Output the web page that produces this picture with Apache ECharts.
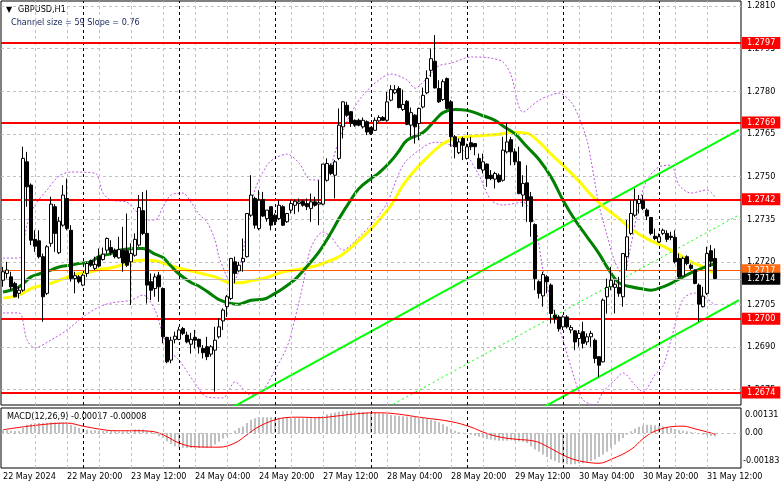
<!DOCTYPE html>
<html>
<head>
<meta charset="utf-8">
<script src="https://cdn.jsdelivr.net/npm/echarts@6/dist/echarts.min.js"></script>
<style>
html,body{margin:0;padding:0;background:#fff;}
#chart{width:781px;height:489px;}
</style>
</head>
<body>
<div id="chart"></div>
<script>
// ---------------- DATA ----------------
const days = ['22 May','23 May','24 May','27 May','28 May','29 May','30 May','31 May'];
const categories = [];
days.forEach((d, i) => {
  const h0 = i === 0 ? 4 : 0;
  const h1 = i === days.length - 1 ? 20 : 23;
  for (let h = h0; h <= h1; h++) categories.push(d + ' ' + String(h).padStart(2, '0') + ':00');
});
const tickLabels = ['22 May 2024','22 May 20:00','23 May 12:00','24 May 04:00','24 May 20:00','27 May 12:00','28 May 04:00','28 May 20:00','29 May 12:00','30 May 04:00','30 May 20:00','31 May 12:00'];
const priceTicks = [1.2675,1.2690,1.2705,1.2720,1.2735,1.2750,1.2765,1.2780,1.2795,1.2810];
const levels = [1.2797,1.2769,1.2742,1.2700,1.2674];
const askLevel = 1.2717;
const bidLevel = 1.2714;

const opens = [1.27135,1.27159,1.27147,1.27124,1.27089,1.27100,1.27552,1.27470,1.27279,1.27274,
1.27218,1.27089,1.27265,1.27394,1.27232,1.27329,1.27423,1.27311,1.27141,1.27147,
1.27118,1.27159,1.27204,1.27177,1.27220,1.27208,1.27241,1.27250,1.27241,1.27214,
1.27241,1.27239,1.27200,1.27223,1.27259,1.27380,1.27300,1.27130,1.27106,1.27153,
1.27106,1.26934,1.26854,1.26927,1.26927,1.26965,1.26942,1.26910,1.26934,1.26927,
1.26895,1.26901,1.26875,1.26889,1.26936,1.26992,1.27042,1.27071,1.27200,1.27168,
1.27200,1.27218,1.27364,1.27423,1.27317,1.27419,1.27352,1.27394,1.27364,1.27352,
1.27394,1.27341,1.27382,1.27399,1.27405,1.27413,1.27405,1.27388,1.27411,1.27403,
1.27403,1.27487,1.27540,1.27505,1.27564,1.27675,1.27751,1.27728,1.27698,1.27698,
1.27675,1.27693,1.27673,1.27663,1.27696,1.27708,1.27698,1.27769,1.27795,1.27810,
1.27736,1.27765,1.27681,1.27716,1.27687,1.27745,1.27795,1.27874,1.27906,1.27810,
1.27771,1.27845,1.27763,1.27640,1.27584,1.27634,1.27564,1.27619,1.27616,1.27564,
1.27523,1.27544,1.27505,1.27491,1.27505,1.27487,1.27587,1.27630,1.27587,1.27552,
1.27435,1.27478,1.27429,1.27331,1.27130,1.27080,1.27147,1.27118,1.27012,1.27006,
1.26971,1.27006,1.26960,1.26957,1.26930,1.26954,1.26918,1.26936,1.26924,1.26866,
1.26848,1.27077,1.27112,1.27110,1.27110,1.27077,1.27218,1.27300,1.27364,1.27405,
1.27415,1.27382,1.27356,1.27290,1.27270,1.27300,1.27300,1.27290,1.27286,1.27212,
1.27150,1.27218,1.27188,1.27171,1.27118,1.27042,1.27089,1.27239,1.27212];
const highs = [1.27182,1.27200,1.27165,1.27130,1.27112,1.27605,1.27587,1.27476,1.27311,1.27311,
1.27229,1.27259,1.27429,1.27403,1.27358,1.27470,1.27493,1.27329,1.27165,1.27153,
1.27159,1.27200,1.27208,1.27218,1.27247,1.27250,1.27286,1.27276,1.27247,1.27288,
1.27323,1.27370,1.27265,1.27300,1.27435,1.27446,1.27452,1.27159,1.27159,1.27165,
1.27110,1.26936,1.26936,1.26954,1.26971,1.26971,1.26954,1.26950,1.26960,1.26930,
1.26907,1.26936,1.26907,1.26971,1.27001,1.27036,1.27083,1.27212,1.27218,1.27200,
1.27282,1.27370,1.27505,1.27429,1.27452,1.27446,1.27382,1.27394,1.27370,1.27419,
1.27399,1.27372,1.27417,1.27419,1.27423,1.27419,1.27423,1.27440,1.27429,1.27487,
1.27544,1.27564,1.27546,1.27558,1.27740,1.27765,1.27763,1.27731,1.27701,1.27704,
1.27708,1.27698,1.27675,1.27708,1.27716,1.27713,1.27798,1.27822,1.27822,1.27818,
1.27806,1.27769,1.27743,1.27720,1.27743,1.27813,1.27874,1.27951,1.27998,1.27839,
1.27842,1.27849,1.27769,1.27646,1.27634,1.27640,1.27616,1.27640,1.27618,1.27581,
1.27581,1.27546,1.27523,1.27517,1.27511,1.27640,1.27689,1.27640,1.27599,1.27605,
1.27505,1.27540,1.27446,1.27335,1.27135,1.27165,1.27153,1.27124,1.27030,1.27012,
1.27012,1.27012,1.26977,1.26960,1.26960,1.26989,1.26948,1.26957,1.26930,1.26868,
1.27071,1.27141,1.27182,1.27135,1.27147,1.27229,1.27347,1.27417,1.27458,1.27435,
1.27435,1.27388,1.27358,1.27317,1.27300,1.27317,1.27311,1.27306,1.27311,1.27229,
1.27218,1.27223,1.27194,1.27173,1.27124,1.27112,1.27253,1.27259,1.27247];
const lows = [1.27112,1.27141,1.27100,1.27075,1.27071,1.27094,1.27394,1.27259,1.27235,1.27212,
1.26989,1.27083,1.27253,1.27235,1.27227,1.27323,1.27311,1.27130,1.27089,1.27124,
1.27114,1.27147,1.27182,1.27171,1.27180,1.27204,1.27229,1.27223,1.27212,1.27211,
1.27165,1.27182,1.27048,1.27218,1.27253,1.27294,1.27053,1.27065,1.27077,1.27059,
1.26913,1.26843,1.26843,1.26913,1.26924,1.26942,1.26913,1.26877,1.26895,1.26877,
1.26860,1.26854,1.26866,1.26743,1.26930,1.26960,1.27006,1.27065,1.27124,1.27165,
1.27165,1.27215,1.27358,1.27317,1.27311,1.27358,1.27341,1.27311,1.27329,1.27347,
1.27326,1.27337,1.27370,1.27368,1.27376,1.27394,1.27382,1.27341,1.27394,1.27329,
1.27399,1.27482,1.27505,1.27423,1.27558,1.27634,1.27710,1.27675,1.27675,1.27677,
1.27669,1.27646,1.27646,1.27661,1.27693,1.27696,1.27693,1.27765,1.27790,1.27740,
1.27731,1.27681,1.27640,1.27616,1.27628,1.27740,1.27790,1.27851,1.27810,1.27759,
1.27766,1.27736,1.27605,1.27564,1.27579,1.27558,1.27560,1.27593,1.27575,1.27526,
1.27511,1.27464,1.27487,1.27458,1.27478,1.27482,1.27581,1.27540,1.27540,1.27438,
1.27394,1.27341,1.27288,1.27100,1.27071,1.27042,1.27089,1.26983,1.26983,1.26954,
1.26960,1.26965,1.26948,1.26889,1.26901,1.26895,1.26907,1.26901,1.26843,1.26795,
1.26846,1.27018,1.27100,1.27018,1.27077,1.27042,1.27171,1.27294,1.27358,1.27370,
1.27382,1.27347,1.27294,1.27276,1.27267,1.27294,1.27270,1.27276,1.27194,1.27141,
1.27147,1.27188,1.27171,1.27121,1.26989,1.27039,1.27083,1.27182,1.27141];
const closes = [1.27165,1.27171,1.27112,1.27077,1.27100,1.27564,1.27464,1.27276,1.27255,1.27218,
1.27077,1.27253,1.27403,1.27300,1.27343,1.27435,1.27317,1.27141,1.27151,1.27130,
1.27153,1.27194,1.27188,1.27191,1.27185,1.27227,1.27282,1.27233,1.27218,1.27243,
1.27196,1.27188,1.27229,1.27279,1.27391,1.27300,1.27118,1.27100,1.27147,1.27112,
1.26936,1.26848,1.26924,1.26938,1.26960,1.26948,1.26918,1.26927,1.26924,1.26901,
1.26880,1.26866,1.26901,1.26924,1.26971,1.27030,1.27077,1.27212,1.27159,1.27188,
1.27212,1.27370,1.27435,1.27329,1.27417,1.27361,1.27382,1.27329,1.27341,1.27399,
1.27329,1.27370,1.27405,1.27413,1.27411,1.27399,1.27394,1.27411,1.27399,1.27408,
1.27544,1.27546,1.27511,1.27552,1.27681,1.27763,1.27716,1.27687,1.27681,1.27681,
1.27698,1.27657,1.27652,1.27698,1.27708,1.27698,1.27763,1.27806,1.27806,1.27743,
1.27754,1.27684,1.27725,1.27675,1.27740,1.27786,1.27845,1.27915,1.27812,1.27763,
1.27834,1.27740,1.27640,1.27605,1.27622,1.27610,1.27605,1.27605,1.27605,1.27528,
1.27552,1.27493,1.27493,1.27511,1.27482,1.27593,1.27622,1.27587,1.27552,1.27440,
1.27476,1.27417,1.27341,1.27141,1.27089,1.27155,1.27130,1.27018,1.27001,1.26965,
1.27006,1.26971,1.26969,1.26918,1.26948,1.26913,1.26936,1.26948,1.26860,1.26836,
1.27065,1.27110,1.27135,1.27121,1.27089,1.27229,1.27288,1.27370,1.27417,1.27419,
1.27388,1.27361,1.27300,1.27282,1.27288,1.27311,1.27279,1.27286,1.27200,1.27147,
1.27212,1.27194,1.27177,1.27124,1.27051,1.27079,1.27229,1.27202,1.27141];

const maGreen = [[0,1.27094],[4,1.27112],[7,1.27147],[9,1.27157],[12,1.27171],[14,1.27182],[17,1.27188],[19,1.27194],[22,1.27200],[24,1.27218],[27,1.27229],[29,1.27241],[33,1.27247],[35,1.27247],[38,1.27227],[40,1.27215],[42,1.27185],[44,1.27157],[47,1.27127],[49,1.27114],[52,1.27086],[54,1.27067],[57,1.27053],[59,1.27051],[62,1.27065],[65,1.27068],[68,1.27089],[70,1.27106],[73,1.27138],[75,1.27168],[79,1.27235],[82,1.27302],[84,1.27352],[87,1.27419],[89,1.27458],[92,1.27493],[94,1.27513],[97,1.27555],[99,1.27590],[101,1.27628],[105,1.27655],[108,1.27698],[110,1.27725],[113,1.27736],[116,1.27733],[120,1.27714],[123,1.27698],[125,1.27678],[128,1.27650],[131,1.27605],[134,1.27560],[137,1.27499],[140,1.27417],[143,1.27347],[146,1.27288],[149,1.27229],[151,1.27182],[154,1.27126],[157,1.27112],[160,1.27104],[162,1.27100],[165,1.27112],[167,1.27124],[170,1.27147],[172,1.27161],[175,1.27179],[178,1.27194]];
const maYellow = [[0,1.27073],[4,1.27083],[7,1.27106],[9,1.27114],[12,1.27124],[14,1.27135],[17,1.27150],[19,1.27159],[22,1.27165],[24,1.27173],[27,1.27179],[29,1.27186],[32,1.27200],[35,1.27206],[38,1.27204],[40,1.27196],[43,1.27182],[46,1.27171],[49,1.27161],[53,1.27147],[55,1.27135],[57,1.27126],[59,1.27126],[62,1.27133],[66,1.27145],[70,1.27165],[73,1.27171],[78,1.27185],[81,1.27200],[84,1.27218],[87,1.27250],[89,1.27276],[92,1.27316],[94,1.27347],[97,1.27399],[100,1.27470],[103,1.27523],[106,1.27567],[110,1.27616],[113,1.27634],[116,1.27640],[120,1.27645],[124,1.27649],[127,1.27656],[131,1.27652],[134,1.27622],[137,1.27579],[140,1.27540],[144,1.27484],[147,1.27435],[150,1.27396],[154,1.27352],[157,1.27317],[159,1.27297],[162,1.27274],[165,1.27255],[168,1.27233],[172,1.27200],[175,1.27182],[178,1.27159]];
const bbUpper = [[0,1.27213],[4,1.27213],[6,1.27329],[8,1.27400],[11,1.27453],[14,1.27502],[17,1.27516],[23,1.27512],[25,1.27442],[27,1.27417],[31,1.27410],[33,1.27382],[36,1.27347],[38,1.27347],[40,1.27393],[42,1.27435],[45,1.27442],[47,1.27410],[49,1.27368],[51,1.27340],[53,1.27277],[54,1.27217],[56,1.27146],[57,1.27118],[59,1.27171],[61,1.27312],[63,1.27453],[66,1.27540],[68,1.27565],[71,1.27579],[74,1.27548],[77,1.27488],[80,1.27488],[82,1.27540],[84,1.27628],[87,1.27723],[90,1.27787],[94,1.27840],[97,1.27861],[101,1.27840],[103,1.27811],[106,1.27847],[109,1.27890],[112,1.27899],[117,1.27921],[122,1.27917],[125,1.27903],[127,1.27857],[130,1.27727],[134,1.27769],[137,1.27787],[139,1.27794],[142,1.27762],[144,1.27709],[146,1.27628],[147,1.27558],[149,1.27400],[151,1.27294],[153,1.27199],[155,1.27153],[157,1.27259],[159,1.27400],[161,1.27488],[164,1.27534],[167,1.27540],[169,1.27470],[172,1.27442],[176,1.27453],[178,1.27428]];
const bbLower = [[0,1.27020],[4,1.27020],[6,1.26925],[8,1.26897],[12,1.26925],[16,1.26960],[20,1.27006],[24,1.27041],[27,1.27055],[32,1.27065],[35,1.27083],[38,1.27030],[40,1.26942],[42,1.26882],[44,1.26854],[48,1.26773],[51,1.26724],[55,1.26721],[58,1.26777],[62,1.26731],[65,1.26749],[68,1.26819],[71,1.26900],[73,1.27000],[75,1.27120],[77,1.27250],[80,1.27305],[82,1.27287],[85,1.27241],[87,1.27259],[93,1.27347],[96,1.27407],[100,1.27540],[104,1.27593],[108,1.27621],[112,1.27611],[115,1.27593],[119,1.27505],[122,1.27417],[125,1.27400],[130,1.27410],[133,1.27329],[135,1.27171],[137,1.27065],[140,1.26925],[143,1.26784],[145,1.26714],[148,1.26696],[150,1.26742],[153,1.26784],[155,1.26809],[158,1.26766],[160,1.26742],[163,1.26802],[165,1.26833],[167,1.26925],[170,1.27069],[173,1.27090],[178,1.27048]];
const channelUpper = [[57,1.26685],[184,1.27664]];
const channelMiddle = [[57,1.26386],[184,1.27365]];
const channelLower = [[57,1.26086],[184,1.27065]];

const macdHist = [0.00015,0.00014,0.00012,0.00010,0.00010,0.00026,0.00043,0.00048,0.00050,0.00052,
0.00053,0.00054,0.00055,0.00055,0.00055,0.00055,0.00054,0.00043,0.00034,0.00026,
0.00021,0.00017,0.00015,0.00014,0.00012,0.00012,0.00010,0.00010,0.00009,0.00008,
0.00008,0.00009,0.00012,0.00018,0.00020,0.00018,0.00010,0.00005,-0.00005,-0.00017,
-0.00026,-0.00043,-0.00057,-0.00069,-0.00074,-0.00077,-0.00078,-0.00078,-0.00078,-0.00078,
-0.00077,-0.00076,-0.00074,-0.00060,-0.00045,-0.00028,-0.00015,0.00000,0.00012,0.00026,
0.00034,0.00052,0.00069,0.00077,0.00084,0.00083,0.00082,0.00082,0.00081,0.00080,
0.00080,0.00080,0.00079,0.00079,0.00078,0.00078,0.00078,0.00078,0.00080,0.00086,
0.00091,0.00098,0.00103,0.00108,0.00112,0.00115,0.00115,0.00114,0.00112,0.00111,
0.00110,0.00108,0.00106,0.00105,0.00104,0.00102,0.00100,0.00095,0.00092,0.00090,
0.00088,0.00086,0.00085,0.00084,0.00081,0.00077,0.00074,0.00069,0.00064,0.00057,
0.00046,0.00034,0.00021,0.00012,0.00005,0.00002,-0.00003,-0.00009,-0.00014,-0.00019,
-0.00026,-0.00031,-0.00034,-0.00038,-0.00040,-0.00040,-0.00040,-0.00038,-0.00040,-0.00043,
-0.00046,-0.00052,-0.00069,-0.00086,-0.00098,-0.00112,-0.00126,-0.00138,-0.00146,-0.00155,
-0.00160,-0.00163,-0.00163,-0.00163,-0.00160,-0.00158,-0.00155,-0.00146,-0.00138,-0.00126,
-0.00112,-0.00098,-0.00077,-0.00060,-0.00043,-0.00026,-0.00009,0.00009,0.00022,0.00033,
0.00040,0.00043,0.00043,0.00041,0.00038,0.00034,0.00031,0.00026,0.00021,0.00015,
0.00012,0.00009,0.00005,0.00003,-0.00002,-0.00009,-0.00012,-0.00015,-0.00017];
const macdSignal = [[0,0.00017],[8,0.00040],[16,0.00052],[20,0.00036],[24,0.00021],[28,0.00012],[33,0.00012],[37,0.00009],[40,-0.00009],[44,-0.00052],[48,-0.00072],[54,-0.00074],[58,-0.00052],[61,-0.00009],[64,0.00034],[68,0.00069],[71,0.00081],[74,0.00083],[79,0.00080],[83,0.00088],[88,0.00100],[93,0.00106],[97,0.00103],[105,0.00080],[112,0.00060],[117,0.00031],[120,0.00005],[124,-0.00020],[128,-0.00032],[133,-0.00043],[136,-0.00070],[140,-0.00115],[143,-0.00140],[147,-0.00156],[149,-0.00158],[152,-0.00138],[157,-0.00086],[160,-0.00030],[163,0.00010],[168,0.00035],[170,0.00036],[173,0.00022],[177,0.00000],[178,-0.00008]];

// ---------------- FONT PICK (narrow UI font like the terminal's) ----------------
function fontAvailable(name) {
  const ctx = document.createElement('canvas').getContext('2d');
  const probe = '22 May 2024 WMil 1.2810';
  ctx.font = '40px monospace';
  const w1 = ctx.measureText(probe).width;
  ctx.font = "40px '" + name + "', monospace";
  const w2 = ctx.measureText(probe).width;
  ctx.font = '40px serif';
  const w3 = ctx.measureText(probe).width;
  ctx.font = "40px '" + name + "', serif";
  const w4 = ctx.measureText(probe).width;
  return w1 !== w2 || w3 !== w4;
}
const candidates = ['Liberation Sans Narrow', 'DejaVu Sans Condensed', 'Arial Narrow', 'Liberation Sans'];
let FAM = 'sans-serif';
for (const c of candidates) { if (fontAvailable(c)) { FAM = c; break; } }
const FONT = "'" + FAM + "', sans-serif";
// size chosen so that "22 May 2024" spans ~54px as in the terminal screenshot
const FS = (function () {
  const ctx = document.createElement('canvas').getContext('2d');
  ctx.font = '11px ' + FONT;
  const w = ctx.measureText('22 May 2024').width;
  return Math.max(8.5, Math.min(11, Math.round(11 * 54 / w * 2) / 2));
})();

// ---------------- CHART ----------------
const chart = echarts.init(document.getElementById('chart'), null, {renderer: 'canvas'});

const candleData = opens.map((o, i) => [o, closes[i], lows[i], highs[i]]);
const gridDash = {color: '#C0C0C0', type: [3, 3], width: 1};
const sepDash = {color: '#000000', type: [3, 3], width: 1};
const vGrid = [];
categories.forEach((c, i) => {
  if (i > 0 && i % 8 === 0 && i < 184 && !c.endsWith(' 00:00')) vGrid.push({xAxis: i, lineStyle: gridDash});
  if (c.endsWith(' 00:00')) vGrid.push({xAxis: i, lineStyle: sepDash});
});
const hGrid = priceTicks.map(v => ({yAxis: v, name: v.toFixed(4)}));

const axisLabelStyle = {color: '#000', fontSize: FS, fontFamily: FONT};
const levelLabel = (bg) => ({show: true, position: 'end', formatter: '{b}', color: '#fff', backgroundColor: bg,
  fontSize: FS, fontFamily: FONT, padding: [1, 5, 0, 5], distance: 1, lineHeight: 11});

const levelData = levels.map(v => ({yAxis: v, name: v.toFixed(4), lineStyle: {color: '#FF0000', width: 2, type: 'solid'}, label: levelLabel('#FF0000')}));
levelData.push({yAxis: askLevel, name: askLevel.toFixed(4), lineStyle: {color: '#FF5A00', width: 1, type: 'solid'}, label: levelLabel('#FF6A10')});
levelData.push({yAxis: bidLevel, name: bidLevel.toFixed(4), lineStyle: {color: '#C0C0C0', width: 1, type: 'solid'}, label: levelLabel('#000000')});

const lineBase = {type: 'line', xAxisIndex: 0, yAxisIndex: 0, showSymbol: false, symbol: 'none', silent: true};
const tfont = FS + 'px ' + FONT;

const option = {
  animation: false,
  backgroundColor: '#ffffff',
  textStyle: {fontFamily: FONT},
  grid: [
    {left: 1, top: 1, width: 740, height: 404, show: true, borderColor: '#000', borderWidth: 1, backgroundColor: '#fff'},
    {left: 1, top: 408, width: 740, height: 60, show: true, borderColor: '#000', borderWidth: 1, backgroundColor: '#fff'}
  ],
  xAxis: [
    {type: 'category', gridIndex: 0, data: categories, boundaryGap: true,
     axisLine: {show: false}, axisTick: {show: false}, axisLabel: {show: false}, splitLine: {show: false}},
    {type: 'category', gridIndex: 1, data: categories, boundaryGap: true,
     axisLine: {show: false}, axisTick: {show: false}, splitLine: {show: false},
     axisLabel: Object.assign({show: true, align: 'left', margin: 4, hideOverlap: false,
       interval: (i, v) => i === 0 || tickLabels.indexOf(v) >= 0,
       formatter: (v, i) => i === 0 ? tickLabels[0] : v}, axisLabelStyle)}
  ],
  yAxis: [
    {type: 'value', gridIndex: 0, min: 1.26696, max: 1.28118, show: false},
    {type: 'value', gridIndex: 1, min: -0.00183, max: 0.00131, show: false}
  ],
  graphic: [
    {type: 'text', x: 6, y: 10, style: {text: '▼', fill: '#000', font: "8px 'DejaVu Sans'", verticalAlign: 'middle'}},
    {type: 'text', x: 18, y: 10, style: {text: 'GBPUSD,H1', fill: '#000', font: tfont, verticalAlign: 'middle'}},
    {type: 'text', x: 11, y: 23, style: {text: 'Channel size = 59 Slope = 0.76', fill: '#14235a', font: tfont, verticalAlign: 'middle'}},
    {type: 'text', x: 7, y: 417, style: {text: 'MACD(12,26,9) -0.00017 -0.00008', fill: '#000', font: tfont, verticalAlign: 'middle'}},
    {type: 'text', x: 745, y: 415, style: {text: '0.00131', fill: '#000', font: tfont, verticalAlign: 'middle'}},
    {type: 'text', x: 745, y: 433, style: {text: '0.00', fill: '#000', font: tfont, verticalAlign: 'middle'}},
    {type: 'text', x: 743, y: 461, style: {text: '-0.00183', fill: '#000', font: tfont, verticalAlign: 'middle'}}
  ],
  series: [
    Object.assign({}, lineBase, {name: 'grid', data: [], z: 1,
      markLine: {silent: true, symbol: ['none', 'none'], precision: 5, animation: false,
        data: vGrid.map(d => Object.assign({label: {show: false}}, d)).concat(hGrid.map(d => Object.assign({}, d, {lineStyle: gridDash,
          label: {show: true, position: 'end', formatter: '{b}', distance: 6, color: '#000', fontSize: FS, fontFamily: FONT}})))}}),
    {type: 'line', xAxisIndex: 1, yAxisIndex: 1, data: [], z: 1, silent: true,
      markLine: {silent: true, symbol: ['none', 'none'], animation: false, label: {show: false},
        data: vGrid.concat([{yAxis: 0, lineStyle: gridDash}])}},
    Object.assign({}, lineBase, {name: 'BB upper', data: bbUpper, z: 2, smooth: 0.3, lineStyle: {color: '#B955E0', width: 1, type: [2, 2]}}),
    Object.assign({}, lineBase, {name: 'BB lower', data: bbLower, z: 2, smooth: 0.3, lineStyle: {color: '#B955E0', width: 1, type: [2, 2]}}),
    Object.assign({}, lineBase, {name: 'ch up', data: channelUpper, z: 2, lineStyle: {color: '#00FF00', width: 2}}),
    Object.assign({}, lineBase, {name: 'ch mid', data: channelMiddle, z: 2, lineStyle: {color: '#00FF00', width: 1, type: [2, 3]}}),
    Object.assign({}, lineBase, {name: 'ch low', data: channelLower, z: 2, lineStyle: {color: '#00FF00', width: 2}}),
    Object.assign({}, lineBase, {name: 'MA slow', data: maYellow, z: 3, smooth: 0.4, lineStyle: {color: '#FFFF00', width: 3}}),
    Object.assign({}, lineBase, {name: 'MA fast', data: maGreen, z: 3, smooth: 0.4, lineStyle: {color: '#008000', width: 3}}),
    {type: 'candlestick', xAxisIndex: 0, yAxisIndex: 0, data: candleData, barWidth: 3, z: 5, silent: true,
      itemStyle: {color: '#ffffff', color0: '#000000', borderColor: '#000000', borderColor0: '#000000', borderColorDoji: '#000000', borderWidth: 1}},
    Object.assign({}, lineBase, {name: 'levels', data: [], z: 8,
      markLine: {silent: true, symbol: ['none', 'none'], precision: 5, animation: false, data: levelData}}),
    {type: 'bar', xAxisIndex: 1, yAxisIndex: 1, data: macdHist, barWidth: 2, z: 3, silent: true,
      itemStyle: {color: '#C0C0C0'}},
    {type: 'line', xAxisIndex: 1, yAxisIndex: 1, data: macdSignal, z: 4, smooth: 0.4, showSymbol: false, symbol: 'none', silent: true,
      lineStyle: {color: '#FF0000', width: 1}}
  ]
};
chart.setOption(option);
</script>
</body>
</html>
